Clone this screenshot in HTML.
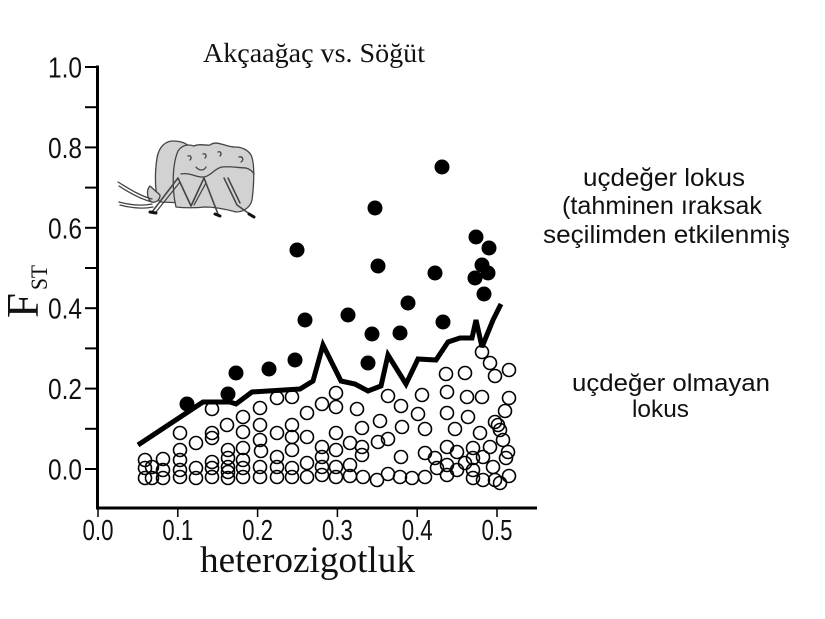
<!DOCTYPE html>
<html>
<head>
<meta charset="utf-8">
<style>
html,body{margin:0;padding:0;background:#fff;}
svg{display:block;}
.tk{font-family:"Liberation Sans",Arial,sans-serif;font-size:29px;fill:#111;}
.sf{font-family:"Liberation Serif","Times New Roman",serif;fill:#111;}
.rt{font-family:"Liberation Sans",Arial,sans-serif;font-size:25px;fill:#111;}
</style>
</head>
<body>
<svg width="825" height="619" viewBox="0 0 825 619" xmlns="http://www.w3.org/2000/svg">
<rect width="825" height="619" fill="#fff"/>

<!-- title -->
<text class="sf" x="203" y="62" font-size="27" textLength="222" lengthAdjust="spacingAndGlyphs">Akçaağaç vs. Söğüt</text>

<!-- axes -->
<g stroke="#000" fill="none">
  <line x1="97.5" y1="65.5" x2="97.5" y2="509.5" stroke-width="3"/>
  <line x1="96" y1="508" x2="537" y2="508" stroke-width="3"/>
  <g stroke-width="2">
    <line x1="85" y1="67" x2="97" y2="67"/>
    <line x1="85" y1="107.2" x2="97" y2="107.2"/>
    <line x1="85" y1="147.4" x2="97" y2="147.4"/>
    <line x1="85" y1="187.6" x2="97" y2="187.6"/>
    <line x1="85" y1="227.8" x2="97" y2="227.8"/>
    <line x1="85" y1="268" x2="97" y2="268"/>
    <line x1="85" y1="308.2" x2="97" y2="308.2"/>
    <line x1="85" y1="348.4" x2="97" y2="348.4"/>
    <line x1="85" y1="388.6" x2="97" y2="388.6"/>
    <line x1="85" y1="428.8" x2="97" y2="428.8"/>
    <line x1="85" y1="469" x2="97" y2="469"/>
  </g>
  <g stroke-width="1.5">
    <line x1="98" y1="508" x2="98" y2="517"/>
    <line x1="177.8" y1="508" x2="177.8" y2="517"/>
    <line x1="257.6" y1="508" x2="257.6" y2="517"/>
    <line x1="337.4" y1="508" x2="337.4" y2="517"/>
    <line x1="417.2" y1="508" x2="417.2" y2="517"/>
    <line x1="497" y1="508" x2="497" y2="517"/>
  </g>
</g>

<!-- y tick labels -->
<g class="tk">
  <text x="48" y="77.5" textLength="34" lengthAdjust="spacingAndGlyphs">1.0</text>
  <text x="48" y="158" textLength="34" lengthAdjust="spacingAndGlyphs">0.8</text>
  <text x="48" y="238.3" textLength="34" lengthAdjust="spacingAndGlyphs">0.6</text>
  <text x="48" y="318.7" textLength="34" lengthAdjust="spacingAndGlyphs">0.4</text>
  <text x="48" y="399" textLength="34" lengthAdjust="spacingAndGlyphs">0.2</text>
  <text x="48" y="479.5" textLength="34" lengthAdjust="spacingAndGlyphs">0.0</text>
</g>
<!-- x tick labels -->
<g class="tk" font-size="28">
  <text x="82.5" y="540" textLength="31" lengthAdjust="spacingAndGlyphs">0.0</text>
  <text x="162.3" y="540" textLength="31" lengthAdjust="spacingAndGlyphs">0.1</text>
  <text x="242.1" y="540" textLength="31" lengthAdjust="spacingAndGlyphs">0.2</text>
  <text x="321.9" y="540" textLength="31" lengthAdjust="spacingAndGlyphs">0.3</text>
  <text x="401.7" y="540" textLength="31" lengthAdjust="spacingAndGlyphs">0.4</text>
  <text x="481.5" y="540" textLength="31" lengthAdjust="spacingAndGlyphs">0.5</text>
</g>

<!-- axis titles -->
<text class="sf" x="200" y="572" font-size="37" textLength="215" lengthAdjust="spacingAndGlyphs">heterozigotluk</text>
<text class="sf" font-size="45" transform="translate(38,318) rotate(-90)" textLength="25" lengthAdjust="spacingAndGlyphs">F</text>
<text class="sf" font-size="23" transform="translate(47,290) rotate(-90)" textLength="25" lengthAdjust="spacingAndGlyphs">ST</text>

<!-- right annotations -->
<g class="rt">
  <text x="583" y="186" textLength="162" lengthAdjust="spacingAndGlyphs">uçdeğer lokus</text>
  <text x="562" y="214" textLength="200" lengthAdjust="spacingAndGlyphs">(tahminen ıraksak</text>
  <text x="543" y="243" textLength="247" lengthAdjust="spacingAndGlyphs">seçilimden etkilenmiş</text>
  <text x="572" y="391" font-size="24" textLength="198" lengthAdjust="spacingAndGlyphs">uçdeğer olmayan</text>
  <text x="632" y="417" font-size="24" textLength="57" lengthAdjust="spacingAndGlyphs">lokus</text>
</g>

<!-- bug illustration -->
<g stroke="#444" stroke-width="1.3" stroke-linejoin="round" stroke-linecap="round">
  <path d="M160,202 C154,196 155,170 157,158 C159,146 166,141 173,141 C180,141 186,143 190,147 L185,203 Z" fill="#d2d2d2"/>
  <path d="M150,186 C146,190 147,200 152,202 C156,203 160,200 160,195 Z" fill="#d2d2d2"/>
  <path d="M176,207 C172,190 172,165 178,151 C182,145 188,144 194,146 C200,143 206,146 210,145 C214,142 218,143 221,144 C226,145 230,147 235,147 C242,147 248,150 251,155 C255,163 254,185 252,200 C250,208 243,212 236,212 C225,209 215,207 205,207 C195,208 185,208 176,207 Z" fill="#d2d2d2"/>
  <path d="M181,174 C190,172 197,178 204,177 C211,176 215,168 222,167 C230,166 240,168 246,168 C250,169 253,172 254,174" fill="none"/>
  <path d="M188,156 C191,155 192,158 190,160 M203,154 C206,153 207,156 205,158 M218,152 C221,151 222,154 220,156 M239,157 C243,156 244,160 241,162" fill="none"/>
  <path d="M196,167 C199,171 204,171 206,167" fill="none"/>
  <path d="M118,182 C128,188 140,196 152,199 M119,186 C128,192 140,199 152,202" fill="none"/>
  <path d="M119,202 C130,205 142,206 152,204 M120,205 C131,208 143,209 153,207" fill="none"/>
  <path d="M152,212 L178,178 L191,206 L204,178 L218,214" fill="none" stroke-width="1.6"/>
  <path d="M156,212 L180,182 M194,205 L206,183" fill="none"/>
  <path d="M224,178 L237,205 L251,215 M228,178 L240,203" fill="none" stroke-width="1.5"/>
  <path d="M150,212 L156,213 M215,214 L220,216 M249,214 L254,217" stroke="#111" stroke-width="3"/>
</g>

<!-- open circles -->
<g fill="none" stroke="#000" stroke-width="1.6">
<circle cx="145" cy="460" r="6.5"/><circle cx="145" cy="468" r="6.5"/><circle cx="152" cy="467" r="6.5"/><circle cx="145" cy="478" r="6.5"/><circle cx="152" cy="478" r="6.5"/>
<circle cx="163" cy="459" r="6.5"/><circle cx="163" cy="470" r="6.5"/><circle cx="163" cy="478" r="6.5"/>
<circle cx="180" cy="433" r="6.5"/><circle cx="180" cy="450" r="6.5"/><circle cx="180" cy="460" r="6.5"/><circle cx="180" cy="470" r="6.5"/><circle cx="180" cy="477" r="6.5"/>
<circle cx="196" cy="443" r="6.5"/><circle cx="196" cy="468" r="6.5"/><circle cx="196" cy="478" r="6.5"/>
<circle cx="212" cy="409" r="6.5"/><circle cx="212" cy="433" r="6.5"/><circle cx="212" cy="438" r="6.5"/><circle cx="212" cy="462" r="6.5"/><circle cx="212" cy="468" r="6.5"/><circle cx="212" cy="477" r="6.5"/>
<circle cx="227" cy="425" r="6.5"/><circle cx="228" cy="450" r="6.5"/><circle cx="228" cy="458" r="6.5"/><circle cx="228" cy="467" r="6.5"/><circle cx="228" cy="472" r="6.5"/><circle cx="228" cy="478" r="6.5"/>
<circle cx="243" cy="417" r="6.5"/><circle cx="243" cy="432" r="6.5"/><circle cx="243" cy="448" r="6.5"/><circle cx="243" cy="460" r="6.5"/><circle cx="243" cy="468" r="6.5"/><circle cx="243" cy="477" r="6.5"/>
<circle cx="260" cy="408" r="6.5"/><circle cx="260" cy="425" r="6.5"/><circle cx="260" cy="440" r="6.5"/><circle cx="261" cy="451" r="6.5"/><circle cx="260" cy="467" r="6.5"/><circle cx="260" cy="477" r="6.5"/>
<circle cx="277" cy="398" r="6.5"/><circle cx="277" cy="433" r="6.5"/><circle cx="277" cy="457" r="6.5"/><circle cx="277" cy="467" r="6.5"/><circle cx="277" cy="477" r="6.5"/>
<circle cx="292" cy="397" r="6.5"/><circle cx="292" cy="425" r="6.5"/><circle cx="292" cy="437" r="6.5"/><circle cx="292" cy="450" r="6.5"/><circle cx="292" cy="468" r="6.5"/><circle cx="292" cy="477" r="6.5"/>
<circle cx="307" cy="413" r="6.5"/><circle cx="307" cy="437" r="6.5"/><circle cx="307" cy="463" r="6.5"/><circle cx="307" cy="477" r="6.5"/>
<circle cx="322" cy="404" r="6.5"/><circle cx="322" cy="447" r="6.5"/><circle cx="322" cy="457" r="6.5"/><circle cx="322" cy="467" r="6.5"/><circle cx="322" cy="475" r="6.5"/>
<circle cx="336" cy="393" r="6.5"/><circle cx="336" cy="407" r="6.5"/><circle cx="336" cy="433" r="6.5"/><circle cx="336" cy="450" r="6.5"/><circle cx="336" cy="467" r="6.5"/><circle cx="336" cy="477" r="6.5"/>
<circle cx="350" cy="443" r="6.5"/><circle cx="350" cy="465" r="6.5"/><circle cx="350" cy="476" r="6.5"/>
<circle cx="357" cy="409" r="6.5"/><circle cx="362" cy="428" r="6.5"/><circle cx="362" cy="447" r="6.5"/><circle cx="362" cy="455" r="6.5"/><circle cx="363" cy="477" r="6.5"/>
<circle cx="377" cy="480" r="6.5"/><circle cx="378" cy="442" r="6.5"/><circle cx="380" cy="421" r="6.5"/>
<circle cx="388" cy="396" r="6.5"/><circle cx="388" cy="439" r="6.5"/><circle cx="388" cy="474" r="6.5"/>
<circle cx="401" cy="406" r="6.5"/><circle cx="402" cy="427" r="6.5"/><circle cx="401" cy="457" r="6.5"/><circle cx="400" cy="477" r="6.5"/>
<circle cx="412" cy="478" r="6.5"/>
<circle cx="418" cy="414" r="6.5"/><circle cx="422" cy="395" r="6.5"/><circle cx="425" cy="429" r="6.5"/><circle cx="425" cy="453" r="6.5"/><circle cx="425" cy="477" r="6.5"/>
<circle cx="435" cy="458" r="6.5"/><circle cx="437" cy="468" r="6.5"/>
<circle cx="446" cy="374" r="6.5"/><circle cx="447" cy="392" r="6.5"/><circle cx="447" cy="413" r="6.5"/><circle cx="447" cy="447" r="6.5"/><circle cx="447" cy="465" r="6.5"/><circle cx="447" cy="475" r="6.5"/>
<circle cx="455" cy="429" r="6.5"/><circle cx="457" cy="452" r="6.5"/><circle cx="457" cy="470" r="6.5"/>
<circle cx="465" cy="373" r="6.5"/><circle cx="465" cy="463" r="6.5"/><circle cx="467" cy="397" r="6.5"/><circle cx="468" cy="417" r="6.5"/>
<circle cx="473" cy="448" r="6.5"/><circle cx="473" cy="458" r="6.5"/><circle cx="473" cy="470" r="6.5"/><circle cx="473" cy="478" r="6.5"/>
<circle cx="480" cy="433" r="6.5"/><circle cx="482" cy="352" r="6.5"/><circle cx="482" cy="397" r="6.5"/><circle cx="483" cy="457" r="6.5"/><circle cx="483" cy="480" r="6.5"/>
<circle cx="490" cy="363" r="6.5"/><circle cx="490" cy="447" r="6.5"/>
<circle cx="493" cy="467" r="6.5"/><circle cx="495" cy="376" r="6.5"/><circle cx="495" cy="422" r="6.5"/><circle cx="495" cy="480" r="6.5"/>
<circle cx="498" cy="425" r="6.5"/><circle cx="500" cy="430" r="6.5"/><circle cx="500" cy="483" r="6.5"/><circle cx="503" cy="440" r="6.5"/><circle cx="505" cy="411" r="6.5"/><circle cx="506" cy="458" r="6.5"/><circle cx="508" cy="452" r="6.5"/>
<circle cx="509" cy="370" r="6.5"/><circle cx="509" cy="398" r="6.5"/><circle cx="509" cy="476" r="6.5"/>
</g>

<!-- threshold line -->
<path d="M138,445 L203,402 L230,402 L236,404 L252,392 L300,389 L313,381 L323,345 L341,381 L355,384 L368,391 L381,386 L388,355 L406,384 L418,359 L436,360 L448,342 L460,338 L472,338 L476,320 L482,347 L493,320 L501,304" fill="none" stroke="#000" stroke-width="5" stroke-linejoin="miter" stroke-miterlimit="3"/>

<!-- filled circles -->
<g fill="#000">
<circle cx="187" cy="404" r="7.5"/><circle cx="228" cy="394" r="7.5"/><circle cx="236" cy="373" r="7.5"/><circle cx="269" cy="369" r="7.5"/>
<circle cx="295" cy="360" r="7.5"/><circle cx="297" cy="250" r="7.5"/><circle cx="305" cy="320" r="7.5"/><circle cx="348" cy="315" r="7.5"/>
<circle cx="372" cy="334" r="7.5"/><circle cx="368" cy="363" r="7.5"/><circle cx="375" cy="208" r="7.5"/><circle cx="378" cy="266" r="7.5"/>
<circle cx="400" cy="333" r="7.5"/><circle cx="408" cy="303" r="7.5"/><circle cx="435" cy="273" r="7.5"/><circle cx="442" cy="167" r="7.5"/>
<circle cx="443" cy="322" r="7.5"/><circle cx="476" cy="237" r="7.5"/><circle cx="489" cy="248" r="7.5"/><circle cx="482" cy="265" r="7.5"/>
<circle cx="488" cy="273" r="7.5"/><circle cx="475" cy="278" r="7.5"/><circle cx="484" cy="294" r="7.5"/>
</g>
</svg>
</body>
</html>
